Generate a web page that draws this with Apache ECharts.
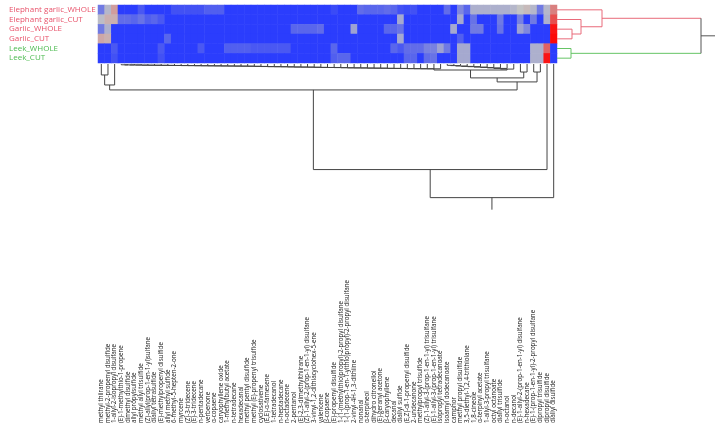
<!DOCTYPE html>
<html><head><meta charset="utf-8">
<script src="https://cdn.jsdelivr.net/npm/echarts/dist/echarts.min.js"></script>
<style>html,body{margin:0;padding:0;background:#fff}#c{width:723px;height:431px}</style>
</head><body><div id="c"></div>
<script>
const rowNames = ['Elephant garlic_WHOLE','Elephant garlic_CUT','Garlic_WHOLE','Garlic_CUT','Leek_WHOLE','Leek_CUT'];
const rowGroup = ['r','r','r','r','g','g'];
const colNames = ['methyl thiirane','methyl-2-propenyl disulfide','1-allyl-2-isopropyl disulfane','(E)-1-methylthio-1-propene','dimethyl disulfide','allyl propylsulfide','methyl allyl trisulfide','(Z)-allyl(prop-1-en-1-yl)sulfane','diallyl tetrasulfide','(E)-methylpropenyl disulfide','allyl methyl sulfide','6-methyl-5-hepten-2-one','myrcene','(Z)-3-tridecene','(E)-3-tridecene','n-pentadecane','verbenone','α-copaene','caryophyllene oxide','1-methylbutyl acetate','n-tetradecane','hexadecanal','methyl pentyl disulfide','methyl (E)-propenyl trisulfide','cyclosativene','(E,E)-α-farnesene','1-tetradecanol','n-heptadecane','n-octadecene','2-pentanol','(E)-2,3-dimethylthiirane','(Z)-1-allyl-2-(prop-1-en-1-yl) disulfane','3-vinyl-1,2-dithiacyclohex-5-ene','valencene','β-copaene','(E)-propenyl disulfide','1-(1-(methylthio)propyl)-2-propyl disulfane','1-(1-(prop-1-en-1-ylthio)propyl)-2-propyl disulfane','2-vinyl-4H-1,3-dithiine','nonanal','α-terpineol','dihydro citronellol','(E)-geranyl acetone','β-caryophyllene','decanal','diallyl sulfide','(E,Z)-di-1-propenyl disulfide','2-undecanone','methylpropyl trisulfide','(Z)-1-allyl-3-(prop-1-en-1-yl) trisulfane','(E)-1-allyl-3-(prop-1-en-1-yl) trisulfane','isopropyl tetradecanoate','isoamyl dodecanoate','camphor','methyl propyl disulfide','3,5-diethyl-1,2,4-trithiolane','1,8-cineole','α-terpinyl acetate','1-allyl-3-propyl trisulfane','octyl octanoate','diallyl trisulfide','n-octanol','n-decanol','(E)-1-allyl-2-(prop-1-en-1-yl) disulfane','n-hexadecane','(E)-1-(prop-1-en-1-yl)-2-propyl disulfane','dipropyl trisulfide','dipropyl disulfide','diallyl disulfide'];

// colour-scale values (0 = blue, 1 = grey, 2 = red)
const eleWhole = [0.45,0.9,1.2,0,0,0,0.2,0,0,0, 0,0.15,0.15,0.15,0.15,0.15,0.25,0.25,0.25,0, 0,0,0,0,0,0,0,0,0,0, 0,0,0,0,0,0.1,0,0,0,0.35, 0.3,0.3,0.3,0.35,0.3,0.15,0.1,0.15,0,0, 0,0,0.35,0,0.55,0.3,0.85,0.85,0.85,0.85, 0.85,0.85,0.9,1.0,1.05,0.9,0.45,0.9,1.35];
const eleCut   = [0.95,1.1,1.1,0.35,0.35,0.3,0.4,0.25,0.3,0.2, 0,0,0,0,0,0,0,0,0,0, 0,0,0,0,0,0,0,0,0,0, 0,0,0,0,0,0,0,0,0,0, 0,0,0,0,0,0.8,0,0,0,0, 0,0,0,0,0.8,0,0.4,0,0,0, 0.45,0,0,0.5,0,0.45,0,0.85,1.6];
const garWhole = [0.45,0.85,0,0,0,0,0,0,0,0, 0,0,0,0,0,0,0,0,0,0, 0,0,0,0,0,0,0,0,0,0.3, 0.3,0.3,0.3,0.35,0,0,0,0,0.75,0, 0,0,0,0.3,0.3,0.4,0,0,0,0, 0,0,0,0.8,0,0,0.45,0.45,0,0, 0.4,0,0,0.75,0.55,0,0,0,1.9];
const garCut   = [1.15,1.1,0,0,0,0,0,0,0,0, 0.3,0,0,0,0,0,0,0,0,0, 0,0,0,0,0,0,0,0,0,0, 0,0,0,0,0,0,0,0,0,0, 0,0,0,0,0,0.8,0,0,0,0, 0,0,0,0,0.25,0,0,0,0,0, 0,0,0,0,0,0,0,0,1.95];
const leekWhole= [0,0,0.2,0,0,0,0,0,0,0.2, 0,0,0,0,0,0.2,0,0,0,0.25, 0.25,0.25,0.25,0.2,0.2,0.2,0.2,0.2,0.2,0, 0,0,0,0,0,0.3,0,0,0,0, 0,0,0,0,0.3,0.2,0.35,0.35,0.35,0.5, 0.5,0.75,0.45,0,0.8,0.8,0,0,0,0, 0,0,0,0,0,0.85,0.85,1.5,0];
const leekCut  = [0,0,0.15,0,0,0,0,0,0,0.15, 0,0,0,0,0,0,0,0,0,0, 0,0,0,0,0,0,0,0,0,0, 0,0,0,0,0,0.25,0.3,0.3,0,0, 0,0,0,0,0,0,0.3,0.3,0,0.35, 0.4,0,0,0,0.8,0.8,0,0,0,0, 0,0,0,0,0,0.85,0.85,1.9,0];

// column dendrogram merges: [a, b, height]; negative = leaf (column number), positive = earlier merge number
const colMerge = [
 [-4,-5,0.6],[1,-6,0.7],[2,-7,0.7],[3,-8,0.8],[4,-9,0.9],[5,-10,0.9],[6,-11,1.0],[7,-12,1.0],[8,-13,1.1],[9,-14,1.1],
 [10,-15,1.2],[11,-16,1.2],[12,-17,1.3],[13,-18,1.3],[14,-19,1.4],[15,-20,1.4],[16,-21,1.5],[17,-22,1.5],[18,-23,1.6],[19,-24,1.6],
 [20,-25,1.7],[21,-26,1.8],[22,-27,1.9],[23,-28,2.0],[24,-29,2.0],[25,-30,2.1],[26,-31,2.2],[27,-32,2.3],[28,-33,2.3],[29,-34,2.4],
 [30,-35,2.5],[31,-36,2.6],[32,-37,2.6],[33,-38,2.7],[34,-39,2.8],[35,-40,2.9],[36,-41,2.9],[37,-42,3.0],[38,-43,3.1],[39,-44,3.1],
 [40,-45,3.2],[41,-46,3.3],[42,-47,3.3],[43,-48,3.4],[44,-49,3.5],[45,-50,3.5],[46,-51,3.6],[47,-52,3.6],
 [-53,-54,1.0],[49,-55,1.2],[50,-56,1.5],[51,-57,1.8],[52,-58,2.0],[53,-59,2.3],[54,-60,2.6],[55,-61,2.9],[56,-62,3.3],[57,-63,3.8],
 [48,58,4.5],[-1,-2,8.2],[60,-3,15.7],[-64,-65,6.0],[-66,-67,6.0],[59,62,10.4],[64,63,13.4],[61,65,19.4],[66,-68,79],[67,-69,100]
];
// row dendrogram merges
const rowMerge = [[-3,-4,15],[-2,1,24],[-1,2,45],[-5,-6,14],[3,4,144]];
const rowNodeColors = ['#e96a7a','#e96a7a','#e96a7a','#66c466','#555555'];

function buildSegs(merges, nodeColors, leafColors, stemTo){
  const pos=[], ht=[], col=[], segs=[];
  const info = i => i<0 ? {p:-i-0.5,h:0,c:leafColors[-i-1]} : {p:pos[i-1],h:ht[i-1],c:col[i-1]};
  merges.forEach((m,k)=>{
    const a=info(m[0]), b=info(m[1]), h=m[2], c=nodeColors[k];
    segs.push([a.p,a.h,a.p,h,a.c]);
    segs.push([b.p,b.h,b.p,h,b.c]);
    segs.push([a.p,h,b.p,h,c]);
    pos.push((a.p+b.p)/2); ht.push(h); col.push(c);
  });
  const r=merges.length-1;
  segs.push([pos[r],ht[r],pos[r],stemTo,col[r]]);
  return segs;
}
function dendroSeries(segs, orient, idx){
  return {type:'custom', xAxisIndex:idx, yAxisIndex:idx, silent:true, clip:false,
    data: segs.map(s=>({value:s.slice(0,4), itemStyle:{color:s[4]}})),
    renderItem:(params, api)=>{
      const p1=api.value(0), h1=api.value(1), p2=api.value(2), h2=api.value(3);
      const A = orient==='v' ? api.coord([p1,h1]) : api.coord([h1,p1]);
      const B = orient==='v' ? api.coord([p2,h2]) : api.coord([h2,p2]);
      return {type:'line', shape:{x1:A[0],y1:A[1],x2:B[0],y2:B[1]}, style:{stroke:api.visual('color'), lineWidth:1}};
    }};
}

const rows = [eleWhole, eleCut, garWhole, garCut, leekWhole, leekCut];
const heat = [];
rows.forEach((r,ri)=>r.forEach((v,ci)=>heat.push([ci,ri,v])));

const colSegs = buildSegs(colMerge, colMerge.map(()=>'#444444'), colNames.map(()=>'#444444'), 109);
const rowSegs = buildSegs(rowMerge, rowNodeColors, ['#e96a7a','#e96a7a','#e96a7a','#e96a7a','#66c466','#66c466'], 158);

const chart = echarts.init(document.getElementById('c'), null, {renderer:'canvas'});
const font = 'Open Sans';
const g = (o)=>Object.assign({containLabel:false, outerBoundsMode:'none'}, o);
chart.setOption({
  animation:false,
  grid:[
    g({left:98, top:5, width:459, height:58}),
    g({left:98, top:64, width:459, height:147}),
    g({left:557, top:5, width:160, height:58}),
    g({left:98, top:424, width:459, height:1})
  ],
  xAxis:[
    {gridIndex:0, type:'category', data:colNames, axisLine:{show:false}, axisTick:{show:false}, axisLabel:{show:false}},
    {gridIndex:1, type:'value', min:0, max:69, show:false},
    {gridIndex:2, type:'value', min:0, max:160, show:false},
    {gridIndex:3, type:'category', data:colNames, position:'top', axisLine:{show:false}, axisTick:{show:false},
     axisLabel:{rotate:90, interval:0, fontSize:6.2, fontFamily:font, color:'#1a1a1a', margin:1}}
  ],
  yAxis:[
    {gridIndex:0, type:'category', inverse:true, data:rowNames,
     axisLine:{show:false}, axisTick:{show:false},
     axisLabel:{interval:0, margin:1, fontSize:8, fontFamily:font,
       formatter:(v,i)=>'{'+rowGroup[i]+'|'+v+'}',
       rich:{r:{width:88, align:'left', color:'#e8526a', fontSize:8, fontFamily:font},
             g:{width:88, align:'left', color:'#4cbb50', fontSize:8, fontFamily:font}}}},
    {gridIndex:1, type:'value', inverse:true, min:0, max:110, show:false},
    {gridIndex:2, type:'value', inverse:true, min:0, max:6, show:false},
    {gridIndex:3, type:'value', show:false}
  ],
  visualMap:{show:false, seriesIndex:0, min:0, max:2, dimension:2, inRange:{color:['#2b3dfd','#c4c4c4','#ff0000']}},
  series:[
    {type:'heatmap', xAxisIndex:0, yAxisIndex:0, data:heat, silent:true, itemStyle:{borderWidth:0}},
    dendroSeries(colSegs,'v',1),
    dendroSeries(rowSegs,'h',2)
  ]
});
</script></body></html>
